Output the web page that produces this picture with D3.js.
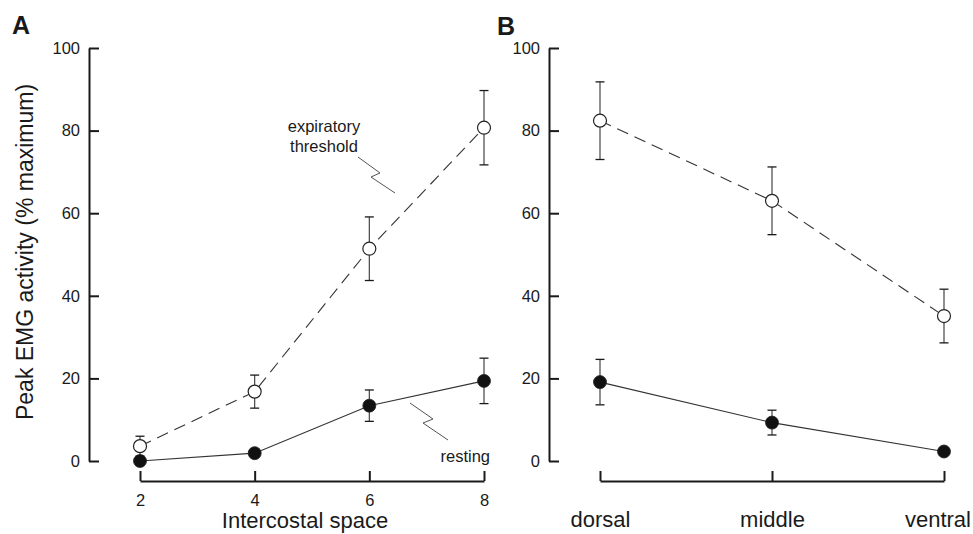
<!DOCTYPE html>
<html>
<head>
<meta charset="utf-8">
<script src="https://cdn.jsdelivr.net/npm/d3@7"></script>
<style>
  html, body { margin: 0; padding: 0; background: #fff; }
  svg { display: block; font-family: "Liberation Sans", Arial, Helvetica, sans-serif; }
</style>
</head>
<body>
<svg id="chart" width="973" height="534"></svg>
<script>
// Panel A: intercostal spaces
const spaces = [2, 4, 6, 8];
const thresholdA = [3.6, 16.8, 51.4, 80.7];
const thresholdASem = [2.4, 4.0, 7.7, 9.0];
const restingA = [0, 1.9, 13.4, 19.4];
const restingASem = [0, 0.8, 3.8, 5.5];

// Panel B: regions of the intercostal space
const regions = ["dorsal", "middle", "ventral"];
const thresholdB = [82.4, 63.0, 35.1];
const thresholdBSem = [9.4, 8.2, 6.5];
const restingB = [19.1, 9.3, 2.3];
const restingBSem = [5.5, 3.0, 0.5];

const yTicks = [0, 20, 40, 60, 80, 100];

const svg = d3.select("#chart");
const ink = "#1a1a1a";

const y = d3.scaleLinear().domain([0, 100]).range([461, 48]);
const xA = d3.scaleLinear().domain([2, 8]).range([140, 484]);
const xB = d3.scalePoint().domain(regions).range([600, 944]);

function yAxis(x0) {
  const g = svg.append("g").attr("transform", `translate(${x0},0)`)
    .call(d3.axisLeft(y).tickValues(yTicks).tickFormat(d3.format("d"))
      .tickSizeInner(-10).tickSizeOuter(0).tickPadding(9));
  g.select(".domain").attr("stroke", ink).attr("stroke-width", 2);
  g.selectAll(".tick line").attr("stroke", ink).attr("stroke-width", 2);
  g.selectAll(".tick text").attr("font-size", 16.5).attr("fill", ink)
    .attr("font-family", "Liberation Sans, Arial, sans-serif");
  return g;
}

function xAxis(scale, ticks, padding, fontSize) {
  const ax = d3.axisBottom(scale).tickSizeInner(-10).tickSizeOuter(0).tickPadding(padding);
  if (ticks) ax.tickValues(ticks).tickFormat(d3.format("d"));
  const g = svg.append("g").attr("transform", "translate(0,481)").call(ax);
  g.select(".domain").attr("stroke", ink).attr("stroke-width", 2);
  g.selectAll(".tick line").attr("stroke", ink).attr("stroke-width", 2);
  g.selectAll(".tick text").attr("font-size", fontSize).attr("fill", ink)
    .attr("font-family", "Liberation Sans, Arial, sans-serif");
  return g;
}

yAxis(89);
yAxis(549);
xAxis(xA, spaces, 13.5, 16.5);
const gB = xAxis(xB, null, 30, 22);
// keep the last category label inside the drawing
gB.selectAll(".tick text").each(function () {
  const t = d3.select(this);
  const w = this.getComputedTextLength();
  const tx = d3.select(this.parentNode).attr("transform");
  const cx = +tx.match(/translate\(([-\d.]+)/)[1];
  if (cx + w / 2 > 971) t.attr("x", 971 - w / 2 - cx);
});

// Series drawing
function series(xs, vals, sems, scale, dashed, filled) {
  const pts = xs.map((d, i) => ({ x: scale(d), v: vals[i], s: sems[i] }));
  const line = d3.line().x(d => d.x).y(d => y(d.v));
  svg.append("path").datum(pts)
    .attr("d", line)
    .attr("fill", "none")
    .attr("stroke", "#333")
    .attr("stroke-width", 1.1)
    .attr("stroke-dasharray", dashed ? "12,7" : null);
  const eb = svg.append("g");
  pts.filter(d => d.s > 0).forEach(d => {
    eb.append("line").attr("x1", d.x).attr("x2", d.x)
      .attr("y1", y(d.v - d.s)).attr("y2", y(d.v + d.s))
      .attr("stroke", "#444").attr("stroke-width", 1.2);
    [d.v - d.s, d.v + d.s].forEach(e => {
      eb.append("line").attr("x1", d.x - 4.5).attr("x2", d.x + 4.5)
        .attr("y1", y(e)).attr("y2", y(e))
        .attr("stroke", ink).attr("stroke-width", 1.3);
    });
  });
  svg.append("g").selectAll("circle").data(pts).join("circle")
    .attr("cx", d => d.x).attr("cy", d => y(d.v))
    .attr("r", 6.5)
    .attr("fill", filled ? "#111" : "#fff")
    .attr("stroke", "#222")
    .attr("stroke-width", filled ? 0.8 : 1.2);
}

series(spaces, thresholdA, thresholdASem, xA, true, false);
series(spaces, restingA, restingASem, xA, false, true);
series(regions, thresholdB, thresholdBSem, xB, true, false);
series(regions, restingB, restingBSem, xB, false, true);

// Axis titles
svg.append("text")
  .attr("transform", "translate(33,252) rotate(-90)")
  .attr("text-anchor", "middle")
  .attr("font-size", 23).attr("fill", ink)
  .text("Peak EMG activity (% maximum)");
svg.append("text")
  .attr("x", 305).attr("y", 528)
  .attr("text-anchor", "middle")
  .attr("font-size", 22).attr("fill", ink)
  .text("Intercostal space");

// Panel letters
svg.append("text").attr("x", 12).attr("y", 34)
  .attr("font-size", 25).attr("font-weight", "bold").attr("fill", ink).text("A");
svg.append("text").attr("x", 497).attr("y", 35)
  .attr("font-size", 25).attr("font-weight", "bold").attr("fill", ink).text("B");

// Series annotations with zigzag leaders
const leader = d3.line();
svg.append("text").attr("x", 324).attr("y", 132)
  .attr("text-anchor", "middle").attr("font-size", 16.5).attr("fill", ink).text("expiratory");
svg.append("text").attr("x", 324).attr("y", 152)
  .attr("text-anchor", "middle").attr("font-size", 16.5).attr("fill", ink).text("threshold");
svg.append("path")
  .attr("d", leader([[358, 157], [380, 173], [371, 177], [395, 193]]))
  .attr("fill", "none").attr("stroke", "#555").attr("stroke-width", 1);

svg.append("text").attr("x", 490).attr("y", 462)
  .attr("text-anchor", "end").attr("font-size", 16.5).attr("fill", ink).text("resting");
svg.append("path")
  .attr("d", leader([[410, 403], [433, 419], [423, 423], [448, 440]]))
  .attr("fill", "none").attr("stroke", "#555").attr("stroke-width", 1);
</script>
</body>
</html>
